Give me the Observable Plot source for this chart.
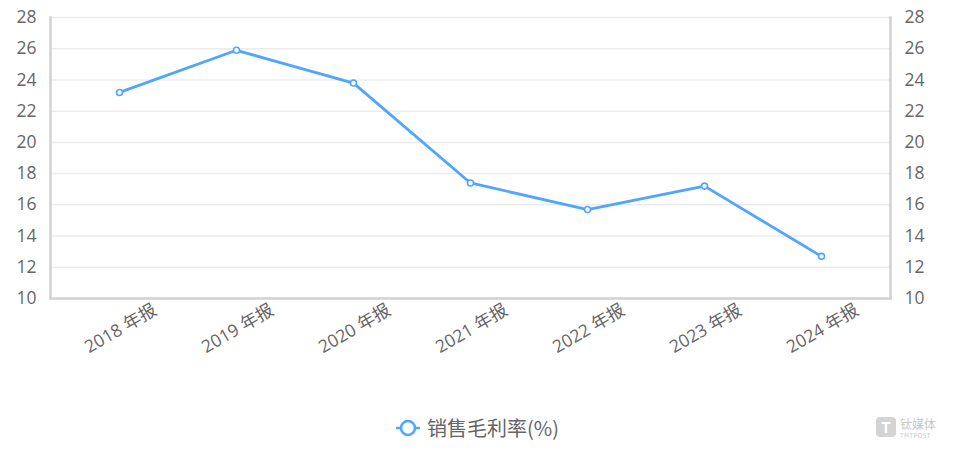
<!DOCTYPE html>
<html>
<head>
<meta charset="utf-8">
<script src="https://cdn.jsdelivr.net/npm/d3@7"></script>
<script src="https://cdn.jsdelivr.net/npm/@observablehq/plot@0.6"></script>
<style>
  html, body { margin: 0; padding: 0; background: #fff; }
  body { width: 954px; height: 453px; position: relative; overflow: hidden;
         font-family: "Open Sans", "Noto Sans CJK SC", sans-serif; }
  #legend { position: absolute; left: 0; top: 413px; width: 954px; text-align: center;
            font-size: 20px; color: #666; display: flex; justify-content: center; align-items: center; }
  #legend svg { margin-right: 6px; }
  #legend span { font-family: "Noto Sans CJK SC", sans-serif; }
  #wm { position: absolute; left: 876px; top: 415px; color: #c8c8c8; font-size: 12px;
        font-family: "Noto Sans CJK SC", sans-serif; display: flex; align-items: center; }
  #wm .box { width: 20px; height: 20px; border-radius: 4px; background: #d4d4d4; color: #fff;
             font-weight: bold; font-size: 15px; text-align: center; line-height: 20px; margin-right: 4px; }
  #wm .t2 { font-size: 6px; letter-spacing: 0.5px; line-height: 7px; }
</style>
</head>
<body>
<div id="chart"></div>
<div id="legend">
  <svg width="26" height="20"><line x1="1" y1="10" x2="25" y2="10" stroke="#4fa5ff" stroke-width="2.5"/><circle cx="13" cy="10" r="7" fill="#fff" stroke="#4fa5ff" stroke-width="2.5"/></svg>
  <span>销售毛利率(%)</span>
</div>
<div id="wm"><div class="box">T</div><div><div>钛媒体</div><div class="t2">TMTPOST</div></div></div>
<script>
const years = ["2018 年报", "2019 年报", "2020 年报", "2021 年报", "2022 年报", "2023 年报", "2024 年报"];
const grossMargin = [23.2, 25.9, 23.8, 17.4, 15.7, 17.2, 12.7];
const yTicks = [10, 12, 14, 16, 18, 20, 22, 24, 26, 28];
const seriesName = "销售毛利率(%)";

const data = years.map((y, i) => ({year: y, value: grossMargin[i]}));
const blue = "#4fa5ff";

const chart = Plot.plot({
  width: 954,
  height: 395,
  marginLeft: 50,
  marginRight: 64,
  marginTop: 17,
  marginBottom: 97,
  style: {fontFamily: '"Open Sans", "Noto Sans CJK SC", sans-serif', overflow: "visible"},
  x: {type: "point", domain: years, range: [119, 821], padding: 0, axis: null},
  y: {domain: [10, 28], ticks: yTicks},
  marks: [
    Plot.ruleY(yTicks, {stroke: "#ececec", strokeWidth: 1.5}),
    Plot.frame({anchor: "left", stroke: "#d2d2d2", strokeWidth: 2.5}),
    Plot.frame({anchor: "right", stroke: "#d2d2d2", strokeWidth: 2.5}),
    Plot.frame({anchor: "bottom", stroke: "#d2d2d2", strokeWidth: 2.5}),
    Plot.axisY({anchor: "left", ticks: yTicks, tickSize: 0, tickPadding: 14, fontSize: 17.5, color: "#666", label: null}),
    Plot.axisY({anchor: "right", ticks: yTicks, tickSize: 0, tickPadding: 14, fontSize: 17.5, color: "#666", label: null}),
    Plot.text(years, {x: d => d, frameAnchor: "bottom", dy: 35, dx: 4, rotate: -30, textAnchor: "middle",
      fontSize: 17.5, fill: "#666", fontFamily: '"Open Sans", "Noto Sans CJK SC", sans-serif'}),
    Plot.line(data, {x: "year", y: "value", stroke: blue, strokeWidth: 2.8}),
    Plot.dot(data, {x: "year", y: "value", r: 3, fill: "#fff", stroke: blue, strokeWidth: 1.6})
  ]
});
document.getElementById("chart").appendChild(chart);
</script>
</body>
</html>
